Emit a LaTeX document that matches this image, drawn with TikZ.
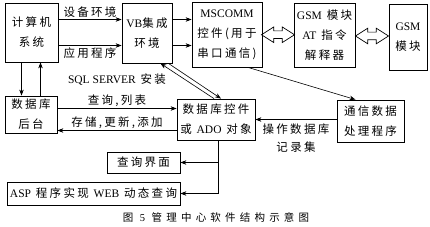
\documentclass[tikz,border=0pt]{standalone}
\usepackage{fontspec}
\setmainfont{Liberation Serif}
\newfontfamily\cjk[LetterSpace=20]{Noto Sans CJK SC}
\newfontfamily\cjkcap[LetterSpace=40]{Noto Sans CJK SC}
\newcommand{\en}[1]{{\rmfamily #1}}
\usetikzlibrary{arrows.meta, positioning, calc, shapes.arrows}

\tikzset{
  box/.style={draw, line width=0.8pt, align=center, inner sep=1pt, font=\cjk\fontsize{11.5}{20}\selectfont},
  arr/.style={-{Stealth[length=6pt, width=4.5pt]}, line width=0.6pt},
  lbl/.style={font=\cjk\fontsize{11.5}{18}\selectfont, align=center, inner sep=2pt},
  fat/.style={double arrow, draw, line width=0.7pt, minimum height=33pt, minimum width=15pt, inner sep=3.5pt, double arrow head extend=4pt, double arrow tip angle=65},
}

\begin{document}
\begin{tikzpicture}[x=1pt, y=-1pt]
  \useasboundingbox (0,0) rectangle (430,227);

  % Top row
  \node[box, minimum width=53pt, minimum height=59pt] (comp) at (31.5, 32.5) {计算机\\系统};
  \node[box, minimum width=50pt, minimum height=60pt] (vb) at (147, 33) {\en{VB}集成\\环境};
  \node[box, minimum width=70pt, minimum height=65pt] (mscomm) at (227, 34.5) {\en{MSCOMM}\\控件(用于\\串口通信)};
  \node[box, minimum width=61pt, minimum height=64pt] (gsmat) at (324.5, 35) {\en{GSM} 模块\\\en{AT} 指令\\解释器};
  \node[box, minimum width=38pt, minimum height=66pt] (gsm) at (408, 37) {\en{GSM}\\模块};

  % Database side
  \node[box, minimum width=52pt, minimum height=37pt] (dbback) at (31, 114.5) {数据库\\后台};
  \node[box, minimum width=78pt, minimum height=41pt] (dbctrl) at (216, 119.5) {数据库控件\\或 \en{ADO} 对象};
  \node[box, minimum width=67pt, minimum height=42pt] (comm) at (370.5, 121) {通信数据\\处理程序};

  % Output
  \node[box, minimum width=73pt, minimum height=21pt] (query) at (143.5, 162.5) {查询界面};
  \node[box, minimum width=173pt, minimum height=23pt] (asp) at (93.5, 193.5) {\en{ASP} 程序实现 \en{WEB} 动态查询};

  % Computer -> VB -> MSCOMM
  \coordinate (c1) at ([yshift=13pt]comp.east);
  \coordinate (c2) at ([yshift=-13pt]comp.east);
  \draw[arr] (c1) -- (c1 -| vb.west) node[lbl, midway, above] {设备环境};
  \draw[arr] (c2) -- (c2 -| vb.west) node[lbl, midway, below] {应用程序};
  \draw[arr] (c1 -| vb.east) -- (c1 -| mscomm.west);
  \draw[arr] (c2 -| vb.east) -- (c2 -| mscomm.west);

  % Hollow double arrows
  \node[fat] (dx1) at ($(mscomm.east)!0.5!(gsmat.west)$) {};
  \node[fat] (dx2) at ($(gsmat.east)!0.5!(gsm.west)$) {};

  % Computer <-> database
  \draw[arr] ([xshift=-10pt]comp.south) -- ([xshift=-10pt]comp.south |- dbback.north);
  \draw[arr] ([xshift=9pt]comp.south |- dbback.north) -- ([xshift=9pt]comp.south);

  % VB <-> database control
  \draw[arr] ([xshift=-2pt]dbctrl.north) -- ([xshift=-12pt]vb.south east);
  \draw[arr] ([xshift=-4pt]vb.south east) -- ([xshift=5pt]dbctrl.north);
  \node[lbl] (sql) at (117, 80) {\en{SQL SERVER} 安装};

  % MSCOMM -> comm
  \draw[arr] ([xshift=21pt]mscomm.south) -- ([xshift=-15pt]comm.north);

  % Database back-end <-> control
  \coordinate (q1) at ([yshift=11pt]dbctrl.west);
  \coordinate (q2) at ([yshift=-11pt]dbctrl.west);
  \draw[arr] (q1 -| dbback.east) -- (q1) node[lbl, midway, above] {查询,列表};
  \draw[arr] (q2) -- (q2 -| dbback.east) node[lbl, midway, above] {存储,更新,添加};

  % comm -> control
  \draw[arr] (comm.west |- dbctrl.east) -- (dbctrl.east) node[lbl, midway, below, yshift=-2pt] {操作数据库\\记录集};

  % control -> outputs
  \draw[arr] ([xshift=2pt]dbctrl.south) |- (query.east);
  \draw[arr] ([xshift=2pt]dbctrl.south) |- (asp.east);

  % Caption
  \node[font=\cjkcap\fontsize{10.5}{12}\selectfont] (cap) at (216, 217) {图 \en{5} 管理中心软件结构示意图};
\end{tikzpicture}
\end{document}
